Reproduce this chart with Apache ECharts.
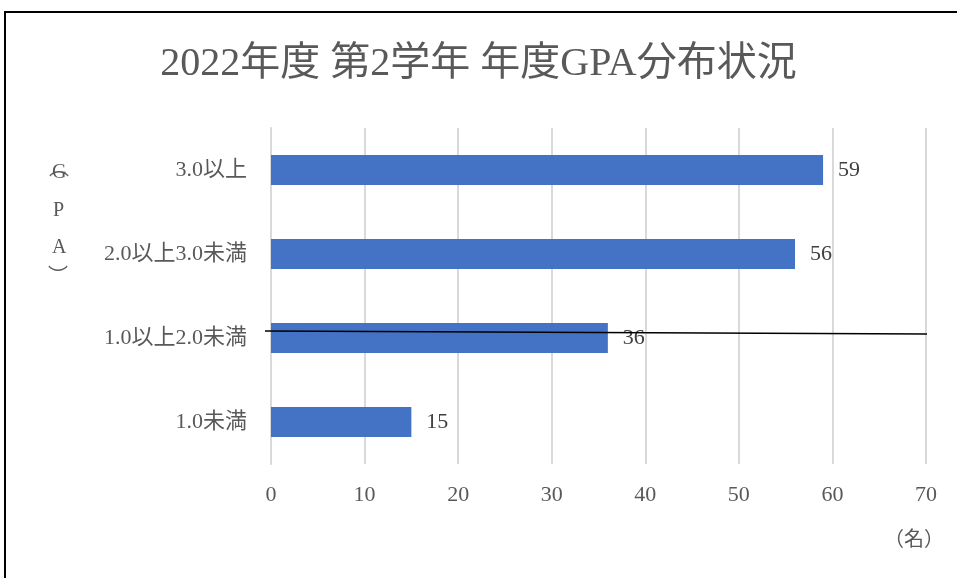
<!DOCTYPE html>
<html>
<head>
<meta charset="utf-8">
<script src="https://cdn.jsdelivr.net/npm/echarts@6/dist/echarts.min.js"></script>
<style>
html, body { margin: 0; padding: 0; background: #fff; }
#main { width: 957px; height: 578px; }
</style>
</head>
<body>
<div id="main"></div>
<script>
// data
const categories = ['1.0未満', '1.0以上2.0未満', '2.0以上3.0未満', '3.0以上'];
const counts = [15, 36, 56, 59];
const xTicks = [0, 70, 10];

const serif = '"Liberation Serif", "DejaVu Serif", "Noto Sans CJK JP", serif';
const txt = '#595959';

const chart = echarts.init(document.getElementById('main'));
const option = {
	backgroundColor: '#fff',
	animation: false,
	title: {
		text: '2022年度 第2学年 年度GPA分布状況',
		left: 'center',
		top: 40,
		textStyle: { fontFamily: serif, fontSize: 40, fontWeight: 'normal', color: txt }
	},
	grid: { left: 271, right: 31, top: 128, bottom: 114 },
	xAxis: {
		type: 'value',
		min: xTicks[0], max: xTicks[1], interval: xTicks[2],
		axisLine: { show: false },
		axisTick: { show: false },
		axisLabel: { fontFamily: serif, fontSize: 22, color: txt, margin: 20 },
		splitLine: { lineStyle: { color: '#d9d9d9', width: 2 } }
	},
	yAxis: {
		type: 'category',
		data: categories,
		axisLine: { lineStyle: { color: '#d9d9d9', width: 2 } },
		axisTick: { show: false },
		axisLabel: { fontFamily: serif, fontSize: 22, color: txt, margin: 24 }
	},
	series: [{
		type: 'bar',
		data: counts,
		barWidth: 30,
		itemStyle: { color: '#4472c4' },
		label: {
			show: true, position: 'right', distance: 15,
			fontFamily: serif, fontSize: 22, color: '#404040'
		}
	}],
	graphic: [
		{ type: 'rect', shape: { x: 5, y: 12, width: 1000, height: 700 },
		  style: { fill: null, stroke: '#000', lineWidth: 2 }, silent: true },
		{ type: 'text', left: 49, top: 160,
		  style: { text: '︵', font: '20px ' + serif, fill: txt } },
		{ type: 'text', left: 52, top: 163,
		  style: { text: 'G', font: '20px ' + serif, fill: txt } },
		{ type: 'text', left: 53, top: 201,
		  style: { text: 'P', font: '20px ' + serif, fill: txt } },
		{ type: 'text', left: 52, top: 238,
		  style: { text: 'A', font: '20px ' + serif, fill: txt } },
		{ type: 'text', left: 48, top: 268,
		  style: { text: '︶', font: '20px ' + serif, fill: txt } },
		{ type: 'text', left: 884, top: 531,
		  style: { text: '（名）', font: '20px ' + serif, fill: txt } },
		{ type: 'line', shape: { x1: 265, y1: 331, x2: 927, y2: 334 },
		  style: { stroke: '#000', lineWidth: 1.5 }, z: 100 }
	]
};
chart.setOption(option);
</script>
</body>
</html>
